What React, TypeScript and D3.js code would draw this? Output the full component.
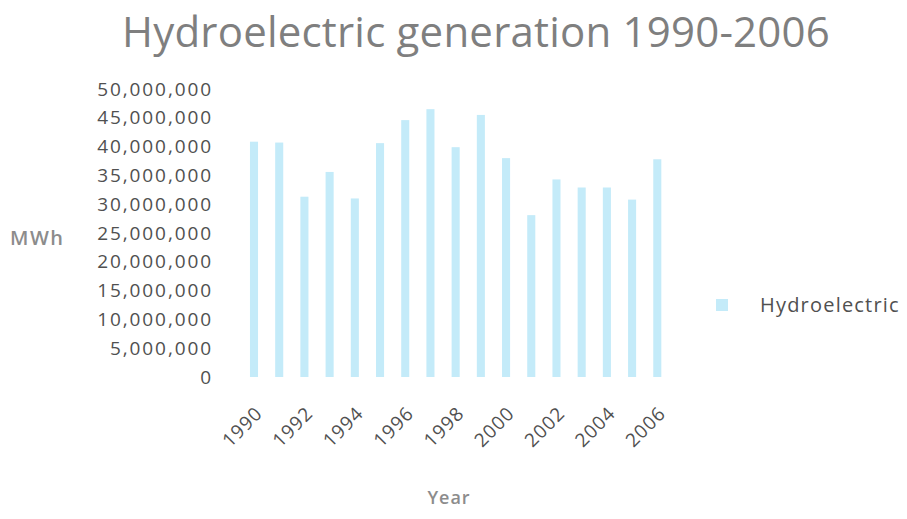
import React from "react";
import * as d3 from "d3";

const years: string[] = [
  "1990", "1991", "1992", "1993", "1994", "1995", "1996", "1997", "1998",
  "1999", "2000", "2001", "2002", "2003", "2004", "2005", "2006",
];
const hydroMWh: number[] = [
  40850000, 40700000, 31300000, 35600000, 31000000, 40600000, 44600000,
  46500000, 39900000, 45500000, 38000000, 28100000, 34300000, 32900000,
  32900000, 30800000, 37800000,
];
const yTicks: number[] = [
  0, 5000000, 10000000, 15000000, 20000000, 25000000, 30000000, 35000000,
  40000000, 45000000, 50000000,
];
const xTickLabels: string[] = [
  "1990", "1992", "1994", "1996", "1998", "2000", "2002", "2004", "2006",
];
const seriesName = "Hydroelectric";

const W = 907;
const H = 519;
const BAR = "#c4ebf9";
const FONT = "'Open Sans', 'Noto Sans', sans-serif";

export default function App() {
  const x = d3
    .scaleBand<string>()
    .domain(years)
    .range([241.4, 669.9])
    .paddingInner(0.68)
    .paddingOuter(0.34);
  const y = d3.scaleLinear().domain([0, 50000000]).range([377, 89]);
  const fmt = d3.format(",");

  return (
    <svg
      width={W}
      height={H}
      style={{ position: "absolute", left: 0, top: 0, background: "#fff" }}
      fontFamily={FONT}
    >
      <text
        x={476}
        y={47}
        textAnchor="middle"
        fontSize={42}
        letterSpacing={0.2}
        fill="#7f7f7f"
      >
        Hydroelectric generation 1990-2006
      </text>

      {/* value axis labels */}
      {yTicks.map((t) => (
        <text
          key={t}
          x={213}
          y={y(t)}
          dy="0.35em"
          textAnchor="end"
          fontSize={19}
          letterSpacing={1.9}
          fill="#505050"
        >
          {fmt(t)}
        </text>
      ))}

      <text x={10} y={238} dy="0.35em" fontSize={20} fontWeight={600} letterSpacing={1.5} fill="#8c8c8c">
        MWh
      </text>

      {/* bars */}
      {years.map((yr, i) => (
        <rect
          key={yr}
          x={x(yr)}
          y={y(hydroMWh[i])}
          width={x.bandwidth()}
          height={y(0) - y(hydroMWh[i])}
          fill={BAR}
        />
      ))}

      {/* category labels, rotated */}
      {xTickLabels.map((yr) => {
        const cx = (x(yr) as number) + x.bandwidth() / 2 + 5;
        const cy = 410;
        return (
          <text
            key={yr}
            transform={`translate(${cx},${cy}) rotate(-45)`}
            textAnchor="end"
            dy="0.35em"
            fontSize={19}
            letterSpacing={1}
            fill="#505050"
          >
            {yr}
          </text>
        );
      })}

      <text x={449} y={498} dy="0.35em" textAnchor="middle" fontSize={18} fontWeight={600} letterSpacing={1} fill="#8c8c8c">
        Year
      </text>

      {/* legend */}
      <rect x={716} y={299} width={12} height={12} fill={BAR} />
      <text x={760} y={305} dy="0.35em" fontSize={20} letterSpacing={1.2} fill="#505050">
        {seriesName}
      </text>
    </svg>
  );
}
